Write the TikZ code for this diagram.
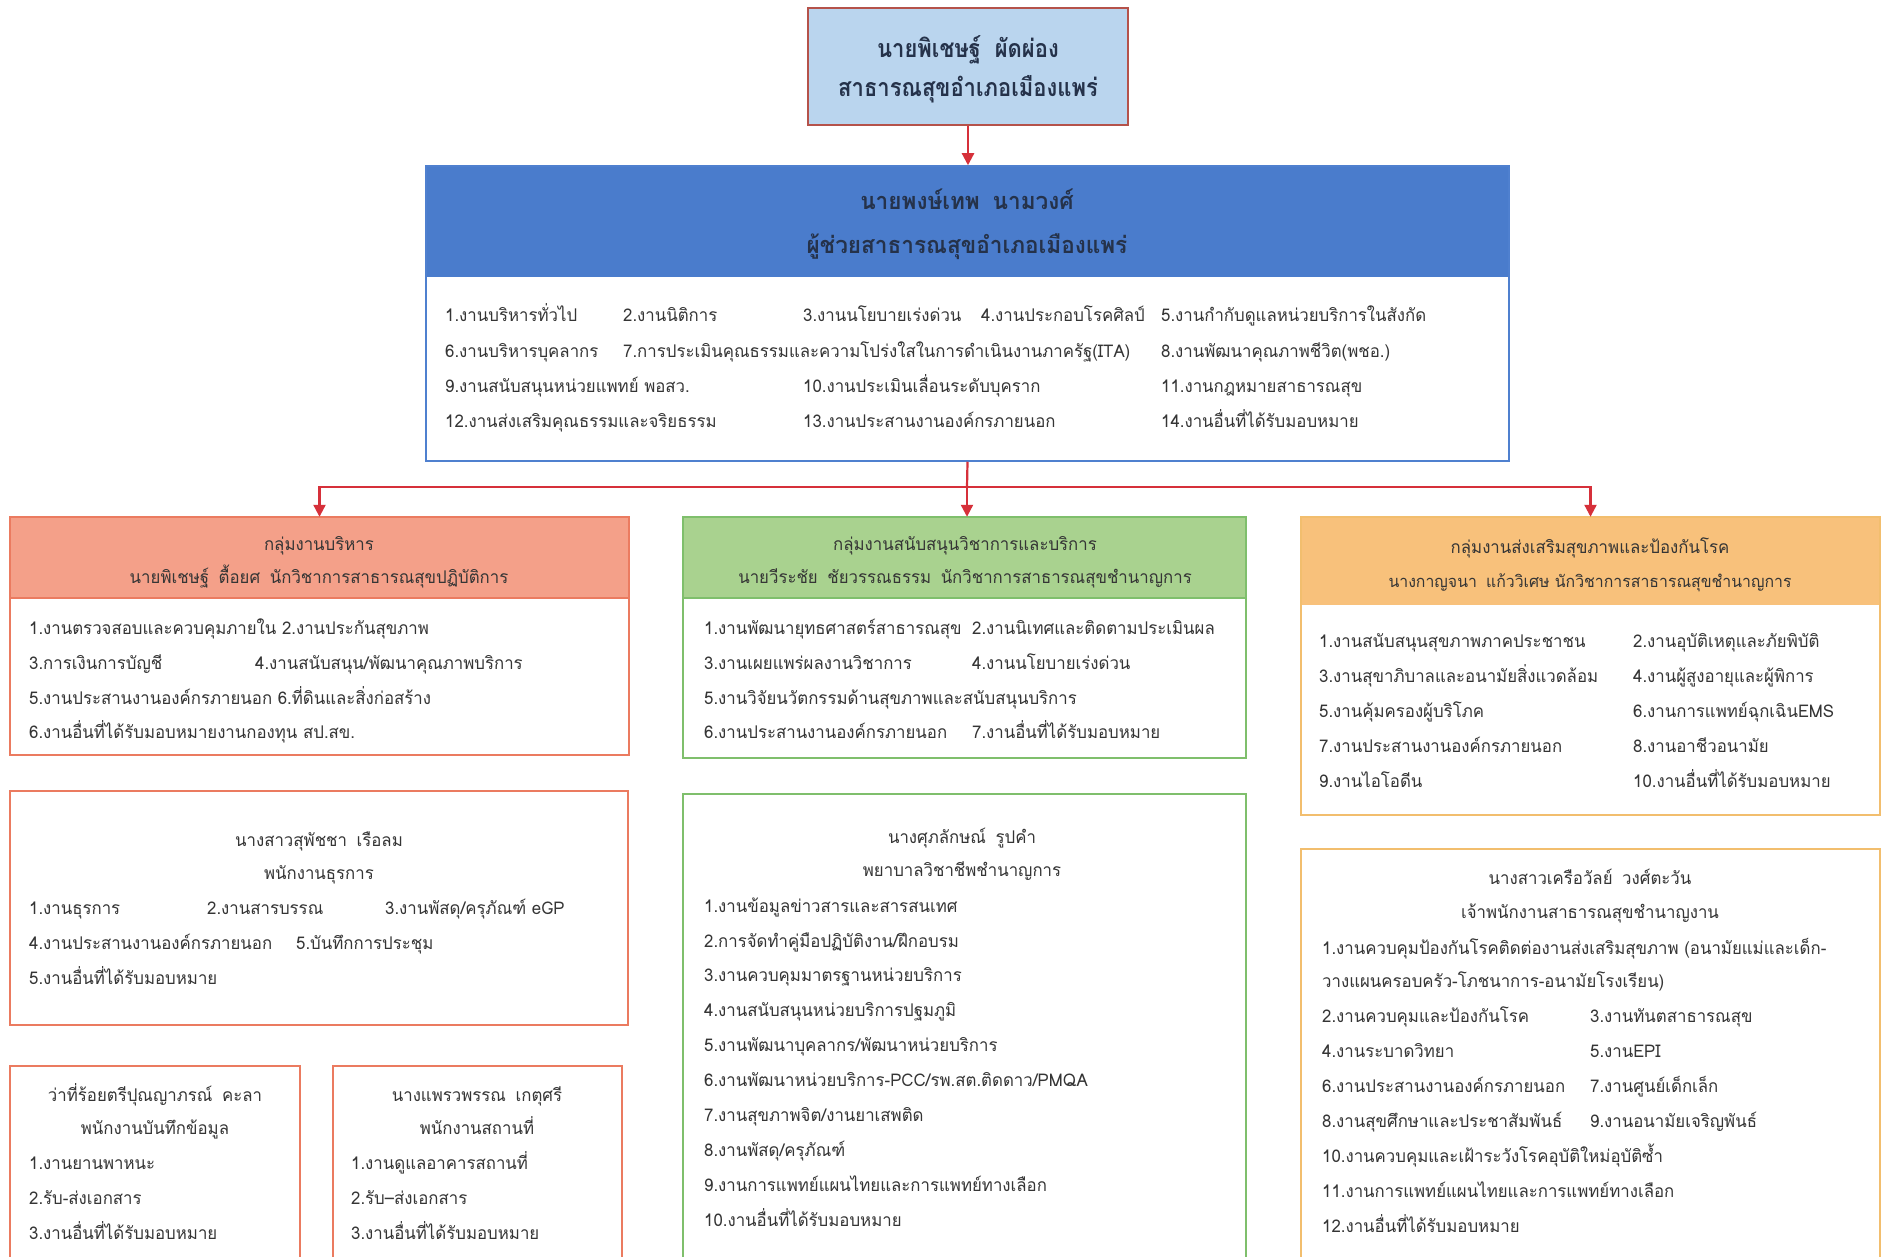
\documentclass[tikz,border=0pt]{standalone}
\usepackage{fontspec}
\newfontfamily\thaifont[Script=Thai,FakeStretch=0.96]{Loma}
\newfontfamily\thaititle[Script=Thai,FakeStretch=0.88]{Loma}
\usetikzlibrary{arrows.meta,fit}
\definecolor{topfill}{HTML}{BAD5EE}
\definecolor{topline}{HTML}{B5524A}
\definecolor{bluehead}{HTML}{4A7CCC}
\definecolor{blueline}{HTML}{4F80CF}
\definecolor{arrowred}{HTML}{D6303A}
\definecolor{redhead}{HTML}{F4A089}
\definecolor{redline}{HTML}{EB7B60}
\definecolor{greenhead}{HTML}{A9D28F}
\definecolor{greenline}{HTML}{7FBF6C}
\definecolor{orahead}{HTML}{F8C17B}
\definecolor{oraline}{HTML}{F2BE6E}
\definecolor{txt}{HTML}{353535}
\definecolor{headtxt}{HTML}{25324A}
\newcounter{tn}
\newcommand\gap{\hspace{0.55em}}
\newcommand\itm[3]{\stepcounter{tn}\node[itemtext] (t\arabic{tn}) at (#1,#2) {#3};}
\newcommand\ctr[3]{\stepcounter{tn}\node[ctrtext] (t\arabic{tn}) at (#1,#2) {#3};}
\begin{document}
\begin{tikzpicture}[x=1pt,y=-1pt,
  panel/.style={draw, line width=1.5pt, inner sep=0pt},
  headfill/.style={inner sep=0pt, draw=none},
  itemtext/.style={anchor=base west, inner sep=0pt, text=txt, font=\thaifont\fontsize{17.5}{20}\selectfont},
  ctrtext/.style={anchor=base, inner sep=0pt, text=txt, font=\thaifont\fontsize{17.5}{20}\selectfont},
  bigtitle/.style={anchor=base, inner sep=0pt, text=headtxt, font=\thaititle\bfseries\fontsize{25}{28}\selectfont},
  bluetitle/.style={anchor=base, inner sep=0pt, text=headtxt, font=\thaifont\bfseries\fontsize{23.5}{26}\selectfont},
  conn/.style={draw=arrowred, line width=2.2pt},
  arr/.style={conn, -{Triangle[length=12pt,width=12pt]}}
]
\useasboundingbox (0,0) rectangle (1886,1257);
\fill[white] (0,0) rectangle (1886,1257);
\clip (0,0) rectangle (1886,1257);

% ---------- top ----------
\node[panel, draw=topline, fill=topfill, fit={(808,8) (1128,125)}] (top) {};
\node[bigtitle] (topA) at (968,58) {นายพิเชษฐ์\gap ผัดผ่อง};
\node[bigtitle] (topB) at (968,97) {สาธารณสุขอำเภอเมืองแพร่};

% ---------- assistant ----------
\node[headfill, fill=bluehead, fit={(426,166) (1509,277)}] (asstHead) {};
\node[panel, draw=blueline, fit={(426,166) (1509,461)}] (asst) {};
\node[bluetitle] (asstA) at (967,210) {นายพงษ์เทพ\gap นามวงศ์};
\node[bluetitle] (asstB) at (967,254) {ผู้ช่วยสาธารณสุขอำเภอเมืองแพร่};
\itm{445}{321}{1.งานบริหารทั่วไป}
\itm{623}{321}{2.งานนิติการ}
\itm{803}{321}{3.งานนโยบายเร่งด่วน}
\itm{981}{321}{4.งานประกอบโรคศิลป์}
\itm{1161}{321}{5.งานกำกับดูแลหน่วยบริการในสังกัด}
\itm{445}{357}{6.งานบริหารบุคลากร}
\itm{623}{357}{7.การประเมินคุณธรรมและความโปร่งใสในการดำเนินงานภาครัฐ(ITA)}
\itm{1161}{357}{8.งานพัฒนาคุณภาพชีวิต(พชอ.)}
\itm{445}{392}{9.งานสนับสนุนหน่วยแพทย์ พอสว.}
\itm{803}{392}{10.งานประเมินเลื่อนระดับบุคราก}
\itm{1161}{392}{11.งานกฎหมายสาธารณสุข}
\itm{445}{427}{12.งานส่งเสริมคุณธรรมและจริยธรรม}
\itm{803}{427}{13.งานประสานงานองค์กรภายนอก}
\itm{1161}{427}{14.งานอื่นที่ได้รับมอบหมาย}

% ---------- group 1 (red) ----------
\node[headfill, fill=redhead, fit={(10,517) (629,598)}] (g1Head) {};
\node[panel, draw=redline, fit={(10,517) (629,755)}] (g1) {};
\draw[redline, line width=1.5pt] (g1Head.south west) -- (g1Head.south east);
\ctr{319}{550}{กลุ่มงานบริหาร}
\ctr{319}{583}{นายพิเชษฐ์\gap ตื้อยศ\gap นักวิชาการสาธารณสุขปฏิบัติการ}
\itm{29}{634}{1.งานตรวจสอบและควบคุมภายใน 2.งานประกันสุขภาพ}
\itm{29}{669}{3.การเงินการบัญชี}
\itm{255}{669}{4.งานสนับสนุน/พัฒนาคุณภาพบริการ}
\itm{29}{704}{5.งานประสานงานองค์กรภายนอก 6.ที่ดินและสิ่งก่อสร้าง}
\itm{29}{738}{6.งานอื่นที่ได้รับมอบหมายงานกองทุน สป.สข.}

% ---------- group 2 (green) ----------
\node[headfill, fill=greenhead, fit={(683,517) (1246,598)}] (g2Head) {};
\node[panel, draw=greenline, fit={(683,517) (1246,758)}] (g2) {};
\draw[greenline, line width=1.5pt] (g2Head.south west) -- (g2Head.south east);
\ctr{965}{550}{กลุ่มงานสนับสนุนวิชาการและบริการ}
\ctr{965}{583}{นายวีระชัย\gap ชัยวรรณธรรม\gap นักวิชาการสาธารณสุขชำนาญการ}
\itm{704}{634}{1.งานพัฒนายุทธศาสตร์สาธารณสุข}
\itm{972}{634}{2.งานนิเทศและติดตามประเมินผล}
\itm{704}{669}{3.งานเผยแพร่ผลงานวิชาการ}
\itm{972}{669}{4.งานนโยบายเร่งด่วน}
\itm{704}{704}{5.งานวิจัยนวัตกรรมด้านสุขภาพและสนับสนุนบริการ}
\itm{704}{738}{6.งานประสานงานองค์กรภายนอก}
\itm{972}{738}{7.งานอื่นที่ได้รับมอบหมาย}

% ---------- group 3 (orange) ----------
\node[headfill, fill=orahead, fit={(1301,517) (1880,605)}] (g3Head) {};
\node[panel, draw=oraline, fit={(1301,517) (1880,815)}] (g3) {};
\ctr{1590}{553}{กลุ่มงานส่งเสริมสุขภาพและป้องกันโรค}
\node[ctrtext, font=\thaifont\fontsize{16.5}{19}\selectfont] (g3B) at (1590,587) {นางกาญจนา\gap แก้ววิเศษ นักวิชาการสาธารณสุขชำนาญการ};
\itm{1319}{647}{1.งานสนับสนุนสุขภาพภาคประชาชน}
\itm{1633}{647}{2.งานอุบัติเหตุและภัยพิบัติ}
\itm{1319}{682}{3.งานสุขาภิบาลและอนามัยสิ่งแวดล้อม}
\itm{1633}{682}{4.งานผู้สูงอายุและผู้พิการ}
\itm{1319}{717}{5.งานคุ้มครองผู้บริโภค}
\itm{1633}{717}{6.งานการแพทย์ฉุกเฉินEMS}
\itm{1319}{752}{7.งานประสานงานองค์กรภายนอก}
\itm{1633}{752}{8.งานอาชีวอนามัย}
\itm{1319}{787}{9.งานไอโอดีน}
\itm{1633}{787}{10.งานอื่นที่ได้รับมอบหมาย}

% ---------- red staff ----------
\node[panel, draw=redline, fit={(10,791) (628,1025)}] (r1) {};
\ctr{319}{846}{นางสาวสุพัชชา\gap เรือลม}
\ctr{319}{879}{พนักงานธุรการ}
\itm{29}{914}{1.งานธุรการ}
\itm{207}{914}{2.งานสารบรรณ}
\itm{385}{914}{3.งานพัสดุ/ครุภัณฑ์ eGP}
\itm{29}{949}{4.งานประสานงานองค์กรภายนอก}
\itm{296}{949}{5.บันทึกการประชุม}
\itm{29}{984}{5.งานอื่นที่ได้รับมอบหมาย}

\node[panel, draw=redline, fit={(10,1066) (300,1300)}] (r2) {};
\ctr{155}{1101}{ว่าที่ร้อยตรีปุณญาภรณ์\gap คะลา}
\ctr{155}{1134}{พนักงานบันทึกข้อมูล}
\itm{29}{1169}{1.งานยานพาหนะ}
\itm{29}{1204}{2.รับ-ส่งเอกสาร}
\itm{29}{1239}{3.งานอื่นที่ได้รับมอบหมาย}

\node[panel, draw=redline, fit={(333,1066) (622,1300)}] (r3) {};
\ctr{477}{1101}{นางแพรวพรรณ\gap เกตุศรี}
\ctr{477}{1134}{พนักงานสถานที่}
\itm{351}{1169}{1.งานดูแลอาคารสถานที่}
\itm{351}{1204}{2.รับ–ส่งเอกสาร}
\itm{351}{1239}{3.งานอื่นที่ได้รับมอบหมาย}

% ---------- green staff ----------
\node[panel, draw=greenline, fit={(683,794) (1246,1300)}] (gs) {};
\ctr{962}{843}{นางศุภลักษณ์\gap รูปคำ}
\ctr{962}{876}{พยาบาลวิชาชีพชำนาญการ}
\itm{704}{912}{1.งานข้อมูลข่าวสารและสารสนเทศ}
\itm{704}{947}{2.การจัดทำคู่มือปฏิบัติงาน/ฝึกอบรม}
\itm{704}{981}{3.งานควบคุมมาตรฐานหน่วยบริการ}
\itm{704}{1016}{4.งานสนับสนุนหน่วยบริการปฐมภูมิ}
\itm{704}{1051}{5.งานพัฒนาบุคลากร/พัฒนาหน่วยบริการ}
\itm{704}{1086}{6.งานพัฒนาหน่วยบริการ-PCC/รพ.สต.ติดดาว/PMQA}
\itm{704}{1121}{7.งานสุขภาพจิต/งานยาเสพติด}
\itm{704}{1156}{8.งานพัสดุ/ครุภัณฑ์}
\itm{704}{1191}{9.งานการแพทย์แผนไทยและการแพทย์ทางเลือก}
\itm{704}{1226}{10.งานอื่นที่ได้รับมอบหมาย}

% ---------- orange staff ----------
\node[panel, draw=oraline, fit={(1301,849) (1880,1300)}] (os) {};
\ctr{1590}{884}{นางสาวเครือวัลย์\gap วงศ์ตะวัน}
\ctr{1590}{918}{เจ้าพนักงานสาธารณสุขชำนาญงาน}
\itm{1322}{954}{1.งานควบคุมป้องกันโรคติดต่องานส่งเสริมสุขภาพ (อนามัยแม่และเด็ก-}
\itm{1322}{987}{วางแผนครอบครัว-โภชนาการ-อนามัยโรงเรียน)}
\itm{1322}{1022}{2.งานควบคุมและป้องกันโรค}
\itm{1590}{1022}{3.งานทันตสาธารณสุข}
\itm{1322}{1057}{4.งานระบาดวิทยา}
\itm{1590}{1057}{5.งานEPI}
\itm{1322}{1092}{6.งานประสานงานองค์กรภายนอก}
\itm{1590}{1092}{7.งานศูนย์เด็กเล็ก}
\itm{1322}{1127}{8.งานสุขศึกษาและประชาสัมพันธ์}
\itm{1590}{1127}{9.งานอนามัยเจริญพันธ์}
\itm{1322}{1162}{10.งานควบคุมและเฝ้าระวังโรคอุบัติใหม่อุบัติซ้ำ}
\itm{1322}{1197}{11.งานการแพทย์แผนไทยและการแพทย์ทางเลือก}
\itm{1322}{1232}{12.งานอื่นที่ได้รับมอบหมาย}

% ---------- connectors ----------
\draw[arr] (top.south) -- (top.south |- asst.north);
\coordinate (bus) at (967,487);
\draw[conn] (asst.south) -- (bus);
\draw[arr] (bus) -| (g1Head.north);
\draw[arr] (bus) -- (bus |- g2Head.north);
\draw[arr] (bus) -| (g3Head.north);
\end{tikzpicture}
\end{document}
